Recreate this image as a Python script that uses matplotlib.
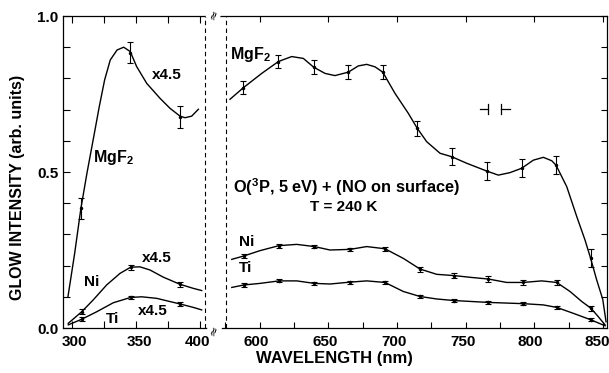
import matplotlib.pyplot as plt
from matplotlib.ticker import MultipleLocator
from matplotlib.transforms import ScaledTranslation

plt.rcParams['font.family'] = ['Liberation Sans', 'DejaVu Sans']
plt.rcParams['font.weight'] = 'bold'
plt.rcParams['mathtext.fontset'] = 'custom'
plt.rcParams['mathtext.rm'] = 'Liberation Sans:bold'
plt.rcParams['mathtext.it'] = 'Liberation Sans:bold'
plt.rcParams['mathtext.bf'] = 'Liberation Sans:bold'
plt.rcParams['mathtext.default'] = 'rm'

# ---- left panel (300-400 nm), x4.5 scaled ----
mgf2_uv_wl = [296.9, 302.1, 307.0, 311.7, 317.0, 321.3, 325.5, 329.9, 335.2, 340.4,
              345.5, 350.5, 358.4, 368.8, 376.6, 384.4, 388.3, 393.5, 398.7]
mgf2_uv_val = [0.101, 0.239, 0.384, 0.496, 0.613, 0.709, 0.795, 0.859, 0.891, 0.900,
               0.886, 0.838, 0.784, 0.736, 0.704, 0.679, 0.674, 0.679, 0.701]
mgf2_uv_pts = [307.0, 345.3, 384.4]
mgf2_uv_pval = [0.384, 0.883, 0.676]
mgf2_uv_err = [0.034, 0.035, 0.036]

ni_uv_wl = [297.1, 307.6, 316.6, 327.1, 337.5, 345.9, 353.1, 360.9, 371.3, 384.4, 394.8, 401.3]
ni_uv_val = [0.015, 0.052, 0.090, 0.138, 0.175, 0.195, 0.196, 0.186, 0.163, 0.140, 0.127, 0.120]
ni_uv_pts = [307.6, 345.9, 384.4]
ni_uv_pval = [0.052, 0.195, 0.140]
ni_uv_err = [0.008, 0.008, 0.008]

ti_uv_wl = [297.1, 307.6, 319.3, 332.3, 345.9, 354.5, 366.2, 384.4, 394.8, 401.3]
ti_uv_val = [0.010, 0.028, 0.052, 0.081, 0.098, 0.100, 0.095, 0.077, 0.066, 0.058]
ti_uv_pts = [307.6, 345.9, 384.4]
ti_uv_pval = [0.028, 0.098, 0.077]
ti_uv_err = [0.007, 0.006, 0.006]

# ---- right panel (575-850 nm) ----
mgf2_wl = [578.5, 588.2, 601.6, 613.7, 623.4, 631.9, 639.4, 647.7, 654.9, 664.6, 671.9,
           678.0, 684.1, 689.7, 698.6, 708.3, 714.8, 721.7, 731.4, 739.9, 750.8, 765.4,
           773.8, 782.3, 790.8, 799.3, 806.6, 812.7, 815.8, 823.6, 830.9, 836.9, 841.0,
           845.4, 849.8, 852.2]
mgf2_val = [0.733, 0.770, 0.816, 0.854, 0.870, 0.864, 0.836, 0.816, 0.809, 0.820, 0.840,
            0.845, 0.837, 0.820, 0.752, 0.688, 0.640, 0.597, 0.560, 0.549, 0.528, 0.503,
            0.490, 0.498, 0.512, 0.538, 0.547, 0.536, 0.522, 0.453, 0.357, 0.282, 0.223,
            0.154, 0.092, 0.020]
mgf2_pts = [588.2, 613.7, 639.4, 664.6, 689.7, 714.8, 739.9, 765.4, 790.8, 815.8, 841.0]
mgf2_pval = [0.770, 0.854, 0.836, 0.820, 0.820, 0.640, 0.549, 0.503, 0.512, 0.522, 0.223]
mgf2_err = [0.021, 0.021, 0.022, 0.023, 0.023, 0.025, 0.027, 0.028, 0.029, 0.030, 0.029]

ni_wl = [579.8, 588.7, 600.4, 614.2, 627.1, 639.9, 651.3, 665.9, 678.0, 691.3, 704.7,
         716.8, 729.0, 741.6, 754.4, 766.5, 779.9, 792.0, 805.4, 816.3, 826.0, 834.5,
         841.3, 846.6, 851.5]
ni_val = [0.220, 0.231, 0.248, 0.264, 0.268, 0.261, 0.250, 0.252, 0.261, 0.254, 0.223,
          0.189, 0.172, 0.168, 0.162, 0.157, 0.146, 0.146, 0.151, 0.146, 0.117, 0.085,
          0.063, 0.036, 0.010]
ni_pts = [588.7, 614.2, 639.9, 665.9, 691.3, 716.8, 741.6, 766.5, 792.0, 816.3, 841.3]
ni_pval = [0.231, 0.264, 0.261, 0.252, 0.254, 0.189, 0.168, 0.157, 0.146, 0.146, 0.063]
ni_err = [0.006, 0.006, 0.006, 0.006, 0.006, 0.008, 0.009, 0.009, 0.009, 0.009, 0.008]

ti_wl = [579.8, 588.7, 600.4, 614.2, 627.1, 639.9, 651.3, 665.9, 678.0, 691.3, 704.7,
         716.8, 729.0, 741.6, 766.5, 792.0, 806.6, 816.3, 828.4, 841.3, 851.5]
ti_val = [0.130, 0.138, 0.143, 0.151, 0.151, 0.143, 0.141, 0.147, 0.151, 0.146, 0.117,
          0.101, 0.093, 0.088, 0.082, 0.078, 0.074, 0.066, 0.047, 0.026, 0.007]
ti_pts = [588.7, 614.2, 639.9, 665.9, 691.3, 716.8, 741.6, 766.5, 792.0, 816.3, 841.3]
ti_pval = [0.138, 0.151, 0.143, 0.147, 0.146, 0.101, 0.088, 0.082, 0.078, 0.066, 0.026]
ti_err = [0.005] * 11

fig = plt.figure(figsize=(6.09, 3.73), dpi=100)
axL = fig.add_axes([63 / 609, 45 / 373, 152 / 609, 312 / 373])
axR = fig.add_axes([215 / 609, 45 / 373, 392 / 609, 312 / 373])

ebkw = dict(fmt='.', color='black', markersize=3, capsize=2, elinewidth=0.8, capthick=0.8)

axL.plot(mgf2_uv_wl, mgf2_uv_val, color='black', lw=1.0)
axL.plot(ni_uv_wl, ni_uv_val, color='black', lw=1.0)
axL.plot(ti_uv_wl, ti_uv_val, color='black', lw=1.0)
axL.errorbar(mgf2_uv_pts, mgf2_uv_pval, yerr=mgf2_uv_err, **ebkw)
axL.errorbar(ni_uv_pts, ni_uv_pval, yerr=ni_uv_err, **ebkw)
axL.errorbar(ti_uv_pts, ti_uv_pval, yerr=ti_uv_err, **ebkw)

axR.plot(mgf2_wl, mgf2_val, color='black', lw=1.0)
axR.plot(ni_wl, ni_val, color='black', lw=1.0)
axR.plot(ti_wl, ti_val, color='black', lw=1.0)
axR.errorbar(mgf2_pts, mgf2_pval, yerr=mgf2_err, **ebkw)
axR.errorbar(ni_pts, ni_pval, yerr=ni_err, **ebkw)
axR.errorbar(ti_pts, ti_pval, yerr=ti_err, **ebkw)

# resolution marker
axR.plot([760.5, 766.5], [0.702, 0.702], color='black', lw=0.9)
axR.plot([766.5, 766.5], [0.686, 0.718], color='black', lw=0.9)
axR.plot([775.5, 775.5], [0.686, 0.718], color='black', lw=0.9)
axR.plot([775.5, 782.3], [0.702, 0.702], color='black', lw=0.9)

# axes ranges / breaks
axL.set_xlim(293.0, 411.7)
axR.set_xlim(567.6, 852.9)
for ax in (axL, axR):
    ax.set_ylim(0, 1.0)
    for s in ax.spines.values():
        s.set_linewidth(0.9)
axL.spines['right'].set_visible(False)
axR.spines['left'].set_visible(False)
axL.axvline(403.9, color='black', lw=0.8, ls=(0, (4, 3)))
axR.axvline(575.6, color='black', lw=0.8, ls=(0, (4, 3)))

axL.set_xticks([300, 350, 400])
axL.xaxis.set_minor_locator(MultipleLocator(25))
axL.yaxis.set_major_locator(MultipleLocator(0.5))
axL.yaxis.set_minor_locator(MultipleLocator(0.1))
axL.yaxis.set_major_formatter(lambda v, p: f'{v:.1f}')
axL.tick_params(which='both', direction='in', top=True, right=False, labelsize=11,
                length=5, width=0.8)
axL.tick_params(axis='x', pad=5)

axR.set_xticks([600, 650, 700, 750, 800, 850])
axR.xaxis.set_minor_locator(MultipleLocator(25))
axR.yaxis.set_major_locator(MultipleLocator(0.1))
axR.tick_params(which='both', direction='in', top=True, left=False, right=True,
                labelleft=False, labelsize=11, length=4, width=0.8)
axR.tick_params(which='minor', top=False, length=4)
axR.tick_params(axis='x', pad=5)

# nudge tick labels to where the reference prints them
fig.canvas.draw()
for lab, dx in zip(axL.get_xticklabels(), [2, 3, -3]):
    lab.set_transform(lab.get_transform() + ScaledTranslation(dx / 100, 0, fig.dpi_scale_trans))
for lab, dx in zip(axR.get_xticklabels(), [-3, -3, -3, -3, -4, -6]):
    lab.set_transform(lab.get_transform() + ScaledTranslation(dx / 100, 0, fig.dpi_scale_trans))

# break marks on the frame
for yb in (1 - 14 / 373, 1 - 330 / 373):
    fig.text(214 / 609, yb, '≈', rotation=70, ha='center', va='center', fontsize=9,
             fontweight='normal', family='DejaVu Sans',
             bbox=dict(facecolor='white', edgecolor='none', pad=0.3))

# labels
fig.text(18 / 609, 1 - 187 / 373, 'GLOW INTENSITY (arb. units)', rotation=90,
         ha='center', va='center', fontsize=11.5)
fig.text(334 / 609, 1 - 359 / 373, 'WAVELENGTH (nm)', ha='center', va='center', fontsize=12)

# annotations
axL.text(374.2, 0.811, 'x4.5', ha='center', va='center', fontsize=11)
axL.text(332.0, 0.548, r'MgF$_2$', ha='center', va='center', fontsize=11.5)
axL.text(366.4, 0.224, 'x4.5', ha='center', va='center', fontsize=11)
axL.text(315.6, 0.147, 'Ni', ha='center', va='center', fontsize=11)
axL.text(363.3, 0.054, 'x4.5', ha='center', va='center', fontsize=11)
axL.text(332.0, 0.029, 'Ti', ha='center', va='center', fontsize=11)

axR.text(578.5, 0.875, r'MgF$_2$', ha='left', va='center', fontsize=11.5)
axR.text(580.7, 0.452, r'O($^3$P, 5 eV) + (NO on surface)', ha='left', va='center',
         fontsize=11.8)
axR.text(636.8, 0.387, 'T = 240 K', ha='left', va='center', fontsize=11)
axR.text(590.9, 0.276, 'Ni', ha='center', va='center', fontsize=11)
axR.text(590.2, 0.192, 'Ti', ha='center', va='center', fontsize=11)

fig.savefig('out.png', dpi=100)
